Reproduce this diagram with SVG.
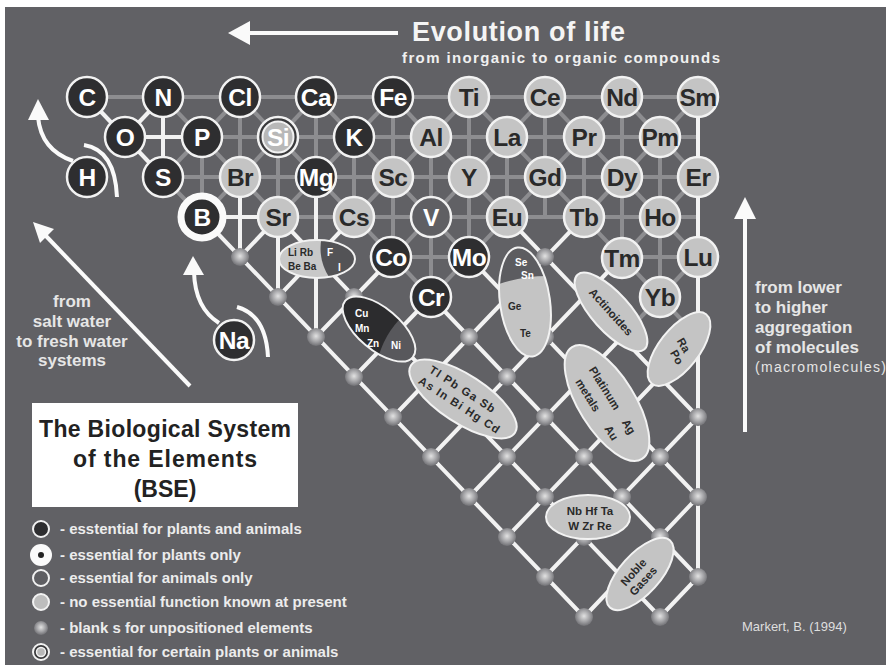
<svg xmlns="http://www.w3.org/2000/svg" width="886" height="665" viewBox="0 0 886 665">
<defs>
<radialGradient id="ballg" cx="50%" cy="45%" r="55%">
<stop offset="0" stop-color="#e2e2e2"/>
<stop offset="0.55" stop-color="#a5a5a8"/>
<stop offset="1" stop-color="#707074"/>
</radialGradient>
<clipPath id="cLi"><ellipse cx="317" cy="259" rx="38" ry="19"/></clipPath>
<clipPath id="cCu"><ellipse cx="0" cy="0" rx="44" ry="21"/></clipPath>
<clipPath id="cSe"><ellipse cx="0" cy="0" rx="25" ry="55"/></clipPath>
<style>
.gl{stroke:#8d8d90;stroke-width:4;fill:none}
.wl{stroke:#f2f2f2;stroke-width:4;fill:none}
.arr{stroke:#fafafa;stroke-width:4;fill:none}
.ah{fill:#fafafa}
.dk{fill:#2e2e30;stroke:#f2f2f2;stroke-width:2.5}
.lt{fill:#c4c4c4;stroke:#f2f2f2;stroke-width:2.5}
.md{fill:#5f5f63;stroke:#f2f2f2;stroke-width:2.5}
.el{font-family:"Liberation Sans",Arial,sans-serif;font-weight:bold;font-size:24.5px;text-anchor:middle;letter-spacing:-0.5px}
.tw{fill:#ffffff}
.td{fill:#2a2a2a}
.ball{fill:url(#ballg)}
.ell{fill:#c4c4c4;stroke:#f2f2f2;stroke-width:2}
.eo{fill:none;stroke:#f2f2f2;stroke-width:2}
.sm{font-family:"Liberation Sans",Arial,sans-serif;font-weight:bold;font-size:10px}
.s11{font-family:"Liberation Sans",Arial,sans-serif;font-weight:bold;font-size:11.5px}
.lab{font-family:"Liberation Sans",Arial,sans-serif;font-weight:bold;fill:#e6e6e6}
.leg{font-family:"Liberation Sans",Arial,sans-serif;font-weight:bold;fill:#ececec;font-size:15px}
.ttl{font-family:"Liberation Sans",Arial,sans-serif;font-weight:bold;fill:#222;font-size:23px;text-anchor:middle}
</style>
</defs>
<rect x="0" y="0" width="886" height="665" fill="#ffffff"/>
<rect x="5" y="7" width="881" height="658" fill="#616165"/>

<g id="connectors">
<g id="gray-grid" class="gl">
<path d="M87,97H698M202,137H698M163,177H698M278,217H698M393,257H469M622,257H698"/>
<path d="M202,137V217M240,97V177M278,137V217M316,97V177M354,137V217M393,97V257M431,137V297M469,97V257M507,137V217M545,97V217M584,137V217M622,97V257M660,137V297"/>
<path d="M163,97L278,217M240,97L393,257M393,257L431,297M316,97L469,257M393,97L507,217M469,97L698,337M545,97L698,257M622,97L698,177M163,177L202,217"/>
<path d="M240,97L163,177M316,97L202,217M393,97L278,217M469,97L354,217M545,97L393,257M622,97L431,297M698,97L584,217M698,177L622,257M698,257L622,337"/>
</g>
<g id="white-lattice" class="wl">
<path d="M87,97L163,177M163,97L125,137M125,137H202M163,97V177M202,217H278M240,177V257M278,217V297M316,177V337M698,97V577"/>
<path d="M202,217L584,617M278,217L660,617M431,297L698,577M469,257L698,497M507,217L698,417"/>
<path d="M278,217L240,257M354,217L278,297M393,257L316,337M431,297L354,377M584,217L393,417M622,257L431,457M622,337L469,497M698,337L507,537M698,417L545,577M698,497L584,617M698,577L660,617"/>
</g>
<g id="arrows">
<path class="arr" d="M246,33H398" stroke-width="5"/>
<polygon class="ah" points="228,33 250,21 250,45"/>
<path class="arr" d="M190,386L46,236"/>
<polygon class="ah" points="33,222 54,229 40,243"/>
<path class="arr" d="M38,117Q41,150 73,161"/>
<polygon class="ah" points="38,99 28,120 49,120"/>
<path class="arr" d="M84,145Q115,150 117,197"/>
<path class="arr" d="M194,272Q195,308 219,323"/>
<polygon class="ah" points="193,256 183,275 204,275"/>
<path class="arr" d="M237,307Q266,315 268,357"/>
<path class="arr" d="M745,432V215"/>
<polygon class="ah" points="745,197 734,219 756,219"/>
</g>
</g>

<g id="blanks">
<circle class="ball" cx="240" cy="257" r="9"/><circle class="ball" cx="545" cy="257" r="9"/>
<circle class="ball" cx="278" cy="297" r="9"/><circle class="ball" cx="354" cy="297" r="9"/>
<circle class="ball" cx="316" cy="337" r="9"/><circle class="ball" cx="469" cy="337" r="9"/><circle class="ball" cx="545" cy="337" r="9"/>
<circle class="ball" cx="354" cy="377" r="9"/><circle class="ball" cx="507" cy="377" r="9"/>
<circle class="ball" cx="393" cy="417" r="9"/><circle class="ball" cx="545" cy="417" r="9"/><circle class="ball" cx="698" cy="417" r="9"/>
<circle class="ball" cx="431" cy="457" r="9"/><circle class="ball" cx="507" cy="457" r="9"/><circle class="ball" cx="584" cy="457" r="9"/><circle class="ball" cx="660" cy="457" r="9"/>
<circle class="ball" cx="469" cy="497" r="9"/><circle class="ball" cx="545" cy="497" r="9"/><circle class="ball" cx="622" cy="497" r="9"/><circle class="ball" cx="698" cy="497" r="9"/>
<circle class="ball" cx="507" cy="537" r="9"/><circle class="ball" cx="584" cy="537" r="9"/><circle class="ball" cx="660" cy="537" r="9"/>
<circle class="ball" cx="545" cy="577" r="9"/><circle class="ball" cx="698" cy="577" r="9"/>
<circle class="ball" cx="584" cy="617" r="9"/><circle class="ball" cx="660" cy="617" r="9"/>
</g>

<g id="el-C"><circle class="dk" cx="87" cy="97" r="20"/><text class="el tw" x="87" y="106">C</text></g>
<g id="el-N"><circle class="dk" cx="163" cy="97" r="20"/><text class="el tw" x="163" y="106">N</text></g>
<g id="el-Cl"><circle class="dk" cx="240" cy="97" r="20"/><text class="el tw" x="240" y="106">Cl</text></g>
<g id="el-Ca"><circle class="dk" cx="316" cy="97" r="20"/><text class="el tw" x="316" y="106">Ca</text></g>
<g id="el-Fe"><circle class="dk" cx="393" cy="97" r="20"/><text class="el tw" x="393" y="106">Fe</text></g>
<g id="el-Ti"><circle class="lt" cx="469" cy="97" r="20"/><text class="el td" x="469" y="106">Ti</text></g>
<g id="el-Ce"><circle class="lt" cx="545" cy="97" r="20"/><text class="el td" x="545" y="106">Ce</text></g>
<g id="el-Nd"><circle class="lt" cx="622" cy="97" r="20"/><text class="el td" x="622" y="106">Nd</text></g>
<g id="el-Sm"><circle class="lt" cx="698" cy="97" r="20"/><text class="el td" x="698" y="106">Sm</text></g>

<g id="el-O"><circle class="dk" cx="125" cy="137" r="20"/><text class="el tw" x="125" y="146">O</text></g>
<g id="el-P"><circle class="dk" cx="202" cy="137" r="20"/><text class="el tw" x="202" y="146">P</text></g>
<g id="el-Si"><circle cx="278" cy="137" r="20" fill="#3a3a3c" stroke="#f2f2f2" stroke-width="2.5"/><circle cx="278" cy="137" r="15.5" fill="#b8b8b8" stroke="#f2f2f2" stroke-width="2"/><text class="el tw" x="278" y="146">Si</text></g>
<g id="el-K"><circle class="dk" cx="354" cy="137" r="20"/><text class="el tw" x="354" y="146">K</text></g>
<g id="el-Al"><circle class="lt" cx="431" cy="137" r="20"/><text class="el td" x="431" y="146">Al</text></g>
<g id="el-La"><circle class="lt" cx="507" cy="137" r="20"/><text class="el td" x="507" y="146">La</text></g>
<g id="el-Pr"><circle class="lt" cx="584" cy="137" r="20"/><text class="el td" x="584" y="146">Pr</text></g>
<g id="el-Pm"><circle class="lt" cx="660" cy="137" r="20"/><text class="el td" x="660" y="146">Pm</text></g>

<g id="el-H"><circle class="dk" cx="87" cy="177" r="20"/><text class="el tw" x="87" y="186">H</text></g>
<g id="el-S"><circle class="dk" cx="163" cy="177" r="20"/><text class="el tw" x="163" y="186">S</text></g>
<g id="el-Br"><circle class="lt" cx="240" cy="177" r="20"/><text class="el td" x="240" y="186">Br</text></g>
<g id="el-Mg"><circle class="dk" cx="316" cy="177" r="20"/><text class="el tw" x="316" y="186">Mg</text></g>
<g id="el-Sc"><circle class="lt" cx="393" cy="177" r="20"/><text class="el td" x="393" y="186">Sc</text></g>
<g id="el-Y"><circle class="lt" cx="469" cy="177" r="20"/><text class="el td" x="469" y="186">Y</text></g>
<g id="el-Gd"><circle class="lt" cx="545" cy="177" r="20"/><text class="el td" x="545" y="186">Gd</text></g>
<g id="el-Dy"><circle class="lt" cx="622" cy="177" r="20"/><text class="el td" x="622" y="186">Dy</text></g>
<g id="el-Er"><circle class="lt" cx="698" cy="177" r="20"/><text class="el td" x="698" y="186">Er</text></g>

<g id="el-B"><circle cx="202" cy="217" r="21" fill="#2e2e30" stroke="#fafafa" stroke-width="7"/><text class="el tw" x="202" y="226">B</text></g>
<g id="el-Sr"><circle class="lt" cx="278" cy="217" r="20"/><text class="el td" x="278" y="226">Sr</text></g>
<g id="el-Cs"><circle class="lt" cx="354" cy="217" r="20"/><text class="el td" x="354" y="226">Cs</text></g>
<g id="el-V"><circle class="md" cx="431" cy="217" r="20"/><text class="el tw" x="431" y="226">V</text></g>
<g id="el-Eu"><circle class="lt" cx="507" cy="217" r="20"/><text class="el td" x="507" y="226">Eu</text></g>
<g id="el-Tb"><circle class="lt" cx="584" cy="217" r="20"/><text class="el td" x="584" y="226">Tb</text></g>
<g id="el-Ho"><circle class="lt" cx="660" cy="217" r="20"/><text class="el td" x="660" y="226">Ho</text></g>

<g id="el-Co"><circle class="dk" cx="391" cy="257" r="20"/><text class="el tw" x="391" y="266">Co</text></g>
<g id="el-Mo"><circle class="dk" cx="469" cy="257" r="20"/><text class="el tw" x="469" y="266">Mo</text></g>
<g id="el-Tm"><circle class="lt" cx="622" cy="258" r="20"/><text class="el td" x="622" y="267">Tm</text></g>
<g id="el-Lu"><circle class="lt" cx="698" cy="257" r="20"/><text class="el td" x="698" y="266">Lu</text></g>
<g id="el-Cr"><circle class="dk" cx="431" cy="297" r="20"/><text class="el tw" x="431" y="306">Cr</text></g>
<g id="el-Yb"><circle class="lt" cx="660" cy="297" r="20"/><text class="el td" x="660" y="306">Yb</text></g>
<g id="el-Na"><circle class="dk" cx="234" cy="340" r="20"/><text class="el tw" x="234" y="349">Na</text></g>

<g id="grp-LiRb">
<ellipse cx="317" cy="259" rx="38" ry="19" fill="#c8c8c8"/>
<path d="M322,236 Q316,262 334,284 L360,284 L360,236 Z" fill="#535356" clip-path="url(#cLi)"/>
<ellipse class="eo" cx="317" cy="259" rx="38" ry="19"/>
<text class="sm td" x="288" y="256">Li Rb</text>
<text class="sm td" x="288" y="270">Be Ba</text>
<text class="sm tw" x="327" y="256">F</text>
<text class="sm tw" x="338" y="271">I</text>
</g>

<g id="grp-CuMnZn">
<g transform="translate(379,329) rotate(40)">
<ellipse cx="0" cy="0" rx="44" ry="21" fill="#2c2c2e"/>
<path d="M10,-25 Q7,0 19,25 L50,25 L50,-25 Z" fill="#58585c" clip-path="url(#cCu)"/>
<ellipse class="eo" cx="0" cy="0" rx="44" ry="21"/>
</g>
<text class="sm tw" x="355" y="317">Cu</text>
<text class="sm tw" x="355" y="332">Mn</text>
<text class="sm tw" x="367" y="347">Zn</text>
<text class="sm tw" x="391" y="349">Ni</text>
</g>

<g id="grp-SeSn">
<g transform="translate(525,302) rotate(-8)">
<ellipse cx="0" cy="0" rx="25" ry="55" fill="#c4c4c4"/>
<path d="M-30,-20 Q0,-27 30,-22 L30,-60 L-30,-60 Z" fill="#5c5c60" clip-path="url(#cSe)"/>
<ellipse class="eo" cx="0" cy="0" rx="25" ry="55"/>
</g>
<text class="sm tw" x="515" y="266">Se</text>
<text class="sm tw" x="521" y="279">Sn</text>
<text class="sm td" x="508" y="310">Ge</text>
<text class="sm td" x="520" y="337">Te</text>
</g>

<g id="grp-Actinoides" transform="translate(611,312) rotate(48)">
<ellipse class="ell" cx="0" cy="0" rx="50" ry="19"/>
<text class="s11 td" x="0" y="4" text-anchor="middle">Actinoides</text>
</g>

<g id="grp-RaPo">
<ellipse class="ell" cx="0" cy="0" rx="44" ry="20" transform="translate(679,349) rotate(-52)"/>
<g transform="translate(679,349) rotate(60)">
<text class="s11 td" x="-1" y="-2" text-anchor="middle">Ra</text>
<text class="s11 td" x="6" y="10" text-anchor="middle">Po</text>
</g>
</g>

<g id="grp-TlPb" transform="translate(463,399) rotate(33)">
<ellipse class="ell" cx="0" cy="0" rx="62" ry="24"/>
<text class="s11 td" x="-6" y="-4" text-anchor="middle" textLength="76">Tl Pb Ga Sb</text>
<text class="s11 td" x="0" y="11" text-anchor="middle" textLength="94">As In Bi Hg Cd</text>
</g>

<g id="grp-Platinum" transform="translate(607,403) rotate(58)">
<ellipse class="ell" cx="0" cy="0" rx="66" ry="28"/>
<text class="s11 td" x="-38" y="-2">Platinum</text>
<text class="s11 td" x="24" y="-2">Ag</text>
<text class="s11 td" x="-35" y="16">metals</text>
<text class="s11 td" x="20" y="16">Au</text>
</g>

<g id="grp-NbHfTa">
<ellipse class="ell" cx="588" cy="517" rx="42" ry="22"/>
<text class="s11 td" x="590" y="515" text-anchor="middle">Nb Hf Ta</text>
<text class="s11 td" x="590" y="530" text-anchor="middle">W Zr Re</text>
</g>

<g id="grp-Noble" transform="translate(640,574) rotate(-48)">
<ellipse class="ell" cx="0" cy="0" rx="45" ry="20"/>
<text class="s11 td" x="-3" y="-2" text-anchor="middle">Noble</text>
<text class="s11 td" x="-3" y="11" text-anchor="middle">Gases</text>
</g>

<g id="header">
<text x="412" y="41" font-family="Liberation Sans, Arial, sans-serif" font-weight="bold" font-size="27" fill="#f4f4f4" textLength="213">Evolution of life</text>
<text x="402" y="63" font-family="Liberation Sans, Arial, sans-serif" font-weight="bold" font-size="15" fill="#f0f0f0" textLength="318">from inorganic to organic compounds</text>
</g>

<g id="label-right" class="lab" font-size="17">
<text x="755" y="293">from lower</text>
<text x="755" y="313">to higher</text>
<text x="755" y="333">aggregation</text>
<text x="755" y="353">of molecules</text>
<text x="755" y="372" font-size="14" font-weight="normal" textLength="131">(macromolecules)</text>
</g>

<g id="label-left" class="lab" font-size="17" text-anchor="middle">
<text x="72" y="307">from</text>
<text x="72" y="327">salt water</text>
<text x="72" y="347">to fresh water</text>
<text x="72" y="366">systems</text>
</g>

<g id="title">
<rect x="32" y="403" width="266" height="104" fill="#ffffff"/>
<text class="ttl" x="165" y="437" textLength="252">The Biological System</text>
<text class="ttl" x="165" y="467" textLength="184">of the Elements</text>
<text class="ttl" x="165" y="497">(BSE)</text>
</g>

<g id="legend">
<circle cx="41" cy="529" r="8" fill="#2e2e30" stroke="#f2f2f2" stroke-width="2"/>
<text class="leg" x="60" y="534">- esstential for plants and animals</text>
<circle cx="41" cy="555" r="11" fill="#fafafa"/>
<circle cx="41" cy="555" r="3" fill="#222"/>
<text class="leg" x="60" y="560">- essential for plants only</text>
<circle cx="41" cy="578" r="8" fill="#5f5f63" stroke="#f2f2f2" stroke-width="2"/>
<text class="leg" x="60" y="583">- essential for animals only</text>
<circle cx="41" cy="602" r="8" fill="#bdbdbd" stroke="#f2f2f2" stroke-width="2"/>
<text class="leg" x="60" y="607">- no essential function known at present</text>
<circle class="ball" cx="41" cy="628" r="7"/>
<text class="leg" x="60" y="633">- blank s for unpositioned elements</text>
<circle cx="41" cy="652" r="8" fill="#3a3a3c" stroke="#f2f2f2" stroke-width="2"/>
<circle cx="41" cy="652" r="4.5" fill="#b8b8b8" stroke="#f2f2f2" stroke-width="1.5"/>
<text class="leg" x="60" y="657">- essential for certain plants or animals</text>
</g>

<text id="credit" x="742" y="631" font-family="Liberation Sans, Arial, sans-serif" font-size="13" fill="#dedede">Markert, B. (1994)</text>
</svg>
